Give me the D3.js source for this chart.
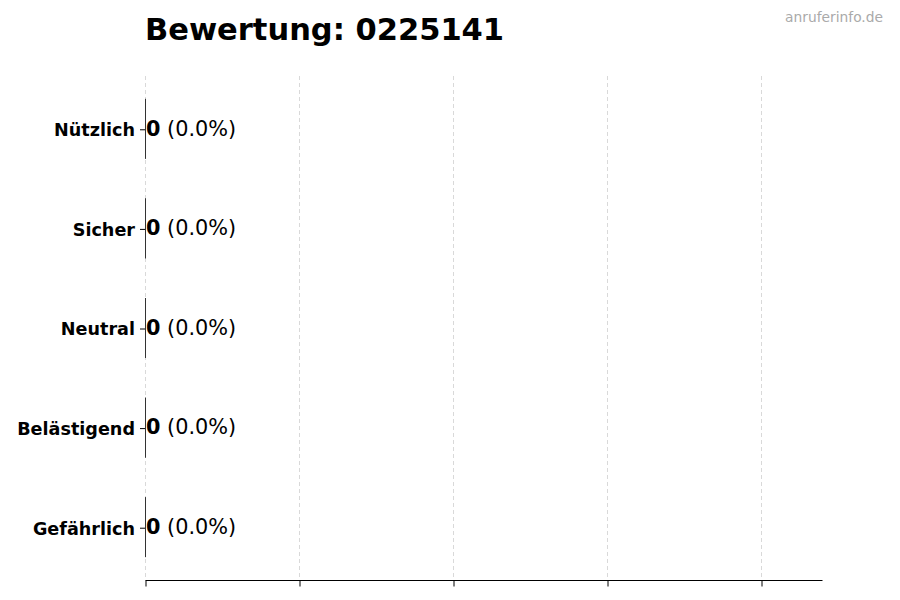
<!DOCTYPE html>
<html lang="de">
<head>
<meta charset="utf-8">
<title>Bewertung: 0225141</title>
<script src="https://d3js.org/d3.v7.min.js"></script>
<style type="text/css">
  body { margin: 0; background: #fff; }
  svg { font-family: "DejaVu Sans", sans-serif; }
</style>
</head>
<body>
<div id="chart"></div>
<script>
// Bewertungen, von unten nach oben
const categories = ["Gefährlich", "Belästigend", "Neutral", "Sicher", "Nützlich"]
const counts = [0, 0, 0, 0, 0]
const percents = [0.0, 0.0, 0.0, 0.0, 0.0]
const xTicks = [0, 1, 2, 3, 4]
const barColors = ["#d62728", "#ff7f0e", "#7f7f7f", "#2ca02c", "#1f77b4"]

const W = 900, H = 600
const mLeft = 145, mRight = 822, mTop = 76, mBottom = 580

const svg = d3.select("#chart")
              .append("svg")
              .attr("width", W)
              .attr("height", H)

const x = d3.scaleLinear().domain([0, 4.396]).range([mLeft, mRight])
const y = d3.scaleLinear().domain([-0.53, 4.53]).range([mBottom, mTop])
const barH = y(0) - y(0.6)

// grid
svg.append("g")
   .selectAll("line")
   .data(xTicks)
   .join("line")
   .attr("x1", d => x(d) + 0.5).attr("x2", d => x(d) + 0.5)
   .attr("y1", mTop).attr("y2", mBottom)
   .attr("stroke", "#d9d9d9")
   .attr("stroke-width", 1)
   .attr("stroke-dasharray", "4,3")

// bars (path so a zero-width bar still shows its edge)
svg.append("g")
   .selectAll("path")
   .data(counts)
   .join("path")
   .attr("d", (d, i) => {
     const x0 = x(0) + 0.5, x1 = x(d) + 0.5
     const y0 = y(i) - barH / 2, y1 = y(i) + barH / 2
     return `M${x0},${y0}H${x1}V${y1}H${x0}Z`
   })
   .attr("fill", (d, i) => barColors[i])
   .attr("stroke", "#333")
   .attr("stroke-width", 1)

// x axis, no labels
const xAxis = svg.append("g")
   .attr("transform", `translate(0.5,${mBottom + 0.5})`)
   .call(d3.axisBottom(x).tickValues(xTicks).tickSize(6).tickFormat(""))
xAxis.select(".domain").attr("stroke", "#000").attr("d", `M${mLeft},0H${mRight}`)
xAxis.selectAll(".tick line").attr("stroke", "#000")

// y ticks and labels
const yAxis = svg.append("g")
   .attr("transform", `translate(${mLeft},0.5)`)
   .call(d3.axisLeft(y).tickValues(d3.range(categories.length))
          .tickSize(5).tickPadding(5).tickFormat(i => categories[i]))
yAxis.select(".domain").remove()
yAxis.selectAll(".tick line").attr("stroke", "#000")
yAxis.selectAll(".tick text")
     .attr("font-family", "DejaVu Sans")
     .attr("font-size", 17.6)
     .attr("font-weight", "bold")
     .attr("fill", "#000")
     .attr("dy", "0.36em")

// value labels
const lab = svg.append("g")
   .selectAll("text")
   .data(counts)
   .join("text")
   .attr("x", d => x(d) + 1)
   .attr("y", (d, i) => y(i))
   .attr("dy", "0.33em")
   .attr("font-size", 20.8)
   .attr("fill", "#000")
lab.append("tspan").attr("font-weight", "bold").text(d => d)
lab.append("tspan").text((d, i) => " (" + percents[i].toFixed(1) + "%)")

// title
svg.append("text")
   .attr("x", mLeft)
   .attr("y", 40)
   .attr("font-size", 30.5)
   .attr("font-weight", "bold")
   .attr("fill", "#000")
   .text("Bewertung: 0225141")

// watermark
svg.append("text")
   .attr("x", 883)
   .attr("y", 22)
   .attr("text-anchor", "end")
   .attr("font-size", 13.8)
   .attr("fill", "#aaaaaa")
   .text("anruferinfo.de")
</script>
</body>
</html>
